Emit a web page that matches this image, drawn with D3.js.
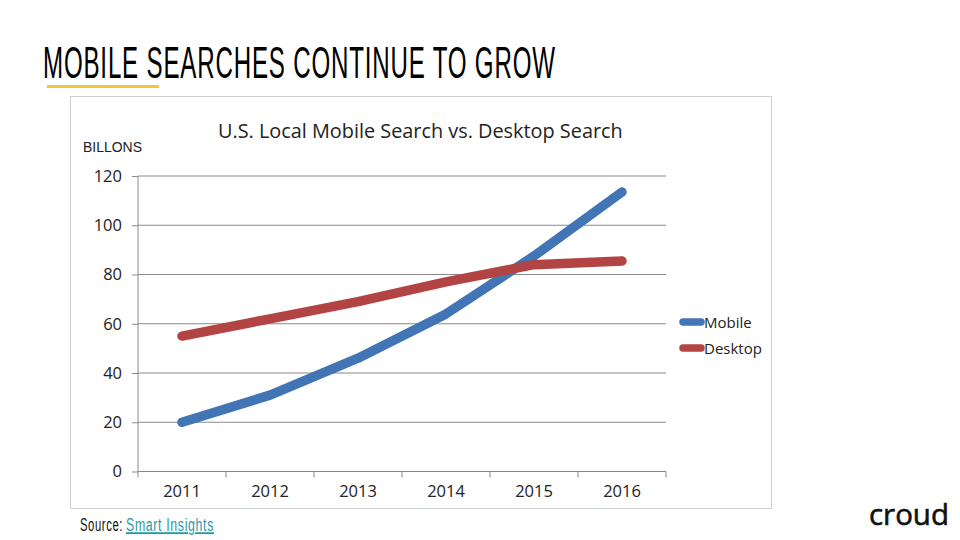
<!DOCTYPE html>
<html>
<head>
<meta charset="utf-8">
<script src="https://cdn.jsdelivr.net/npm/d3@7"></script>
<style>
  html, body { margin: 0; padding: 0; background: #fff; }
</style>
</head>
<body>
<div id="chart"></div>
<script>
const years = ["2011", "2012", "2013", "2014", "2015", "2016"];
const mobile = [20, 31, 46, 64, 87.5, 113.5];
const desktop = [55, 62, 69, 77, 84, 85.5];
const yTicks = [0, 20, 40, 60, 80, 100, 120];
const seriesNames = ["Mobile", "Desktop"];
const seriesColors = ["#4175b5", "#b24443"];

const bodyFont = "'Open Sans', 'Noto Sans', sans-serif";
const headFont = "'Liberation Sans', Arial, sans-serif";
const axisColor = "#8a8a8a";

const svg = d3.select("#chart")
  .append("svg")
    .attr("width", 960)
    .attr("height", 540)
    .style("display", "block");

// no condensed font installed, so squeeze a text to the width it has in the picture
function squeeze(text, left, baseline, width) {
  const k = width / text.node().getComputedTextLength();
  text.attr("transform", `translate(${left},${baseline}) scale(${k},1)`);
}

// slide heading and underline
const heading = svg.append("text")
  .attr("font-family", headFont)
  .attr("font-size", 45)
  .attr("letter-spacing", 1.5)
  .attr("fill", "#000")
  .text("MOBILE SEARCHES CONTINUE TO GROW");
squeeze(heading, 43, 77.5, 513);

svg.append("rect")
  .attr("x", 47)
  .attr("y", 85)
  .attr("width", 112)
  .attr("height", 3)
  .attr("fill", "#e6c93f");

// chart frame
svg.append("rect")
  .attr("x", 70.5)
  .attr("y", 96.5)
  .attr("width", 701)
  .attr("height", 412)
  .attr("fill", "#fff")
  .attr("stroke", "#cfcfcf");

const chartTitle = svg.append("text")
  .attr("font-family", bodyFont)
  .attr("font-size", 20)
  .attr("fill", "#222")
  .text("U.S. Local Mobile Search vs. Desktop Search");
squeeze(chartTitle, 218, 138, 405);

const unitLabel = svg.append("text")
  .attr("font-family", headFont)
  .attr("font-size", 14)
  .attr("fill", "#222")
  .text("BILLONS");
squeeze(unitLabel, 83, 152, 59);

// scales
const x = d3.scaleBand().domain(years).range([138, 666]);
const y = d3.scaleLinear().domain([0, 120]).range([471.5, 176]);

// gridlines
svg.append("g")
  .selectAll("line")
  .data(yTicks.filter(d => d > 0))
  .join("line")
    .attr("x1", x.range()[0])
    .attr("x2", x.range()[1])
    .attr("y1", d => y(d))
    .attr("y2", d => y(d))
    .attr("stroke", axisColor);

// Y axis
const yAxis = svg.append("g")
  .attr("transform", `translate(${x.range()[0]},0)`)
  .call(d3.axisLeft(y).tickValues(yTicks).tickSize(6).tickPadding(10));
yAxis.select(".domain").attr("stroke", axisColor).attr("d", `M0,${y(120)}V${y(0)}`);
yAxis.selectAll(".tick line").attr("stroke", axisColor);
yAxis.selectAll("text")
  .attr("font-family", bodyFont)
  .attr("font-size", 16.5)
  .attr("fill", "#222");

// X axis, ticks fall between the categories
const xAxis = svg.append("g")
  .attr("transform", `translate(0,${y(0)})`)
  .call(d3.axisBottom(x).tickSize(0).tickPadding(14));
xAxis.select(".domain").attr("stroke", axisColor).attr("d", `M${x.range()[0]},0H${x.range()[1]}`);
xAxis.selectAll("text")
  .attr("font-family", bodyFont)
  .attr("font-size", 16.5)
  .attr("fill", "#222");

svg.append("g")
  .selectAll("line")
  .data(years.concat("end"))
  .join("line")
    .attr("x1", (d, i) => x.range()[0] + i * x.bandwidth())
    .attr("x2", (d, i) => x.range()[0] + i * x.bandwidth())
    .attr("y1", y(0))
    .attr("y2", y(0) + 6)
    .attr("stroke", axisColor);

// lines
const line = d3.line()
  .x((d, i) => x(years[i]) + x.bandwidth() / 2)
  .y(d => y(d));

svg.append("g")
  .selectAll("path")
  .data([mobile, desktop])
  .join("path")
    .attr("d", line)
    .attr("fill", "none")
    .attr("stroke", (d, i) => seriesColors[i])
    .attr("stroke-width", 9.5)
    .attr("stroke-linecap", "round")
    .attr("stroke-linejoin", "round");

// legend
const legend = svg.append("g")
  .selectAll("g")
  .data(seriesNames)
  .join("g")
    .attr("transform", (d, i) => `translate(683,${322 + i * 26})`);

legend.append("line")
  .attr("x1", 0)
  .attr("x2", 18)
  .attr("stroke", (d, i) => seriesColors[i])
  .attr("stroke-width", 7.5)
  .attr("stroke-linecap", "round");

legend.append("text")
  .attr("x", 21)
  .attr("y", 5.5)
  .attr("font-family", bodyFont)
  .attr("font-size", 15)
  .attr("fill", "#222")
  .text(d => d);

// source note
const sourceLabel = svg.append("text")
  .attr("font-family", headFont)
  .attr("font-size", 19)
  .attr("letter-spacing", 1)
  .attr("fill", "#111")
  .text("Source:");
squeeze(sourceLabel, 80, 531, 43);

const sourceLink = svg.append("text")
  .attr("font-family", headFont)
  .attr("font-size", 19)
  .attr("letter-spacing", 1)
  .attr("fill", "#2b9aa6")
  .attr("text-decoration", "underline")
  .text("Smart Insights");
squeeze(sourceLink, 126, 531, 88);

// logo
const logo = svg.append("text")
  .attr("font-family", bodyFont)
  .attr("font-size", 30)
  .attr("fill", "#111")
  .attr("stroke", "#111")
  .attr("stroke-width", 0.6)
  .text("croud");
squeeze(logo, 869, 525, 80);
</script>
</body>
</html>
